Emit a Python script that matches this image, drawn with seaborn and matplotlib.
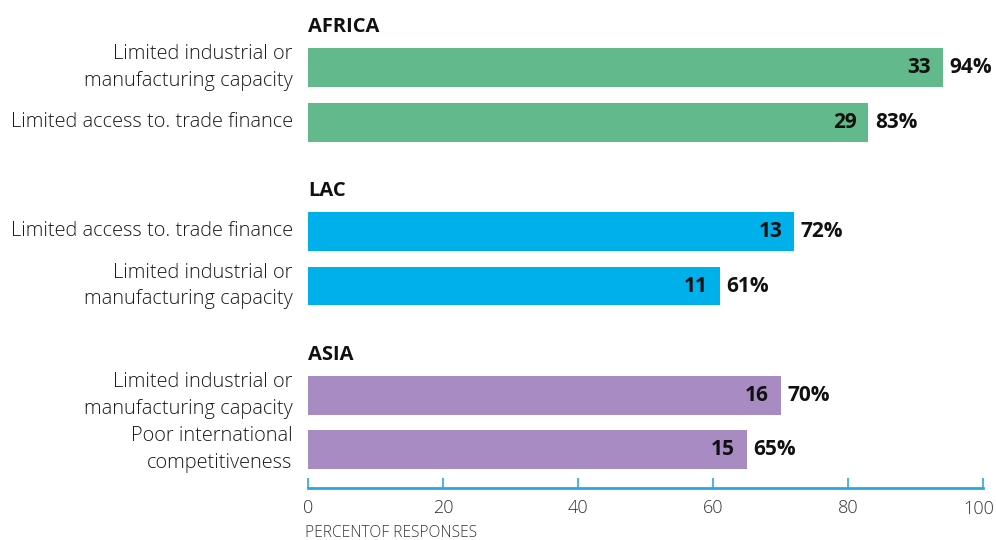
import pandas as pd
import matplotlib.pyplot as plt
import seaborn as sns

# Data
regions = ['AFRICA', 'AFRICA', 'LAC', 'LAC', 'ASIA', 'ASIA']
labels = ['Limited industrial or\nmanufacturing capacity',
          'Limited access to. trade finance',
          'Limited access to. trade finance',
          'Limited industrial or\nmanufacturing capacity',
          'Limited industrial or\nmanufacturing capacity',
          'Poor international\ncompetitiveness']
counts = [33, 29, 13, 11, 16, 15]
percents = [94, 83, 72, 61, 70, 65]
xticks = [0, 20, 40, 60, 80, 100]

colors = {'AFRICA': '#61B98C', 'LAC': '#00B0EA', 'ASIA': '#A78BC2'}

# one empty slot above every region for its header
slots = []
slot_labels = []
bar_slots = []
for i, (r, lab) in enumerate(zip(regions, labels)):
    if i == 0 or regions[i - 1] != r:
        slots.append('h' + r)
        slot_labels.append('')
    slots.append('b%d' % i)
    slot_labels.append(lab)
    bar_slots.append('b%d' % i)

df = pd.DataFrame({'slot': bar_slots, 'region': regions,
                   'pct': percents, 'count': counts})

plt.rcParams['font.family'] = ['Open Sans', 'DejaVu Sans']
fig = plt.figure(figsize=(9.96, 5.4), dpi=100)
ax = fig.add_axes([308 / 996, 52 / 540, 675 / 996, 488 / 540])

sns.barplot(data=df, x='pct', y='slot', hue='region', order=slots,
            palette=colors, width=0.71, dodge=False, legend=False, ax=ax,
            saturation=1)

for _, row in df.iterrows():
    pos = slots.index(row['slot'])
    ax.text(row['pct'] - 1.7, pos, str(row['count']), ha='right', va='center',
            fontsize=15, fontweight='bold', color='#111111')
    ax.text(row['pct'] + 1.0, pos, '%d%%' % row['pct'], ha='left', va='center',
            fontsize=15, fontweight='bold', color='#111111')

for s in slots:
    if s.startswith('h'):
        ax.text(0, slots.index(s) + 0.26, s[1:], ha='left', va='center',
                fontsize=14.5, fontweight='bold', color='#111111')

ax.set_ylim(8.70, -0.24)
ax.set_xlim(0, 100)
ax.set_xticks(xticks)
# last tick label is drawn separately so it stays inside the figure
ax.set_xticklabels([str(t) for t in xticks[:-1]] + [''])
ax.annotate(str(xticks[-1]), xy=(xticks[-1], 0), xycoords=('data', 'axes fraction'),
            xytext=(8, -8.3), textcoords='offset points', ha='right', va='top',
            fontsize=13, color='#333333', fontweight='light')
ax.set_yticks(range(len(slots)))
ax.set_yticklabels(slot_labels, fontsize=14.4, color='#1a1a1a',
                   linespacing=1.45, ha='right', va='center', fontweight='light')
ax.tick_params(axis='y', length=0, pad=11)
ax.tick_params(axis='x', direction='in', length=7, width=1.2,
               color='#29A8E0', labelsize=13, labelcolor='#333333', pad=8)
for t in ax.get_xticklabels():
    t.set_fontweight('light')
for side in ['top', 'right', 'left']:
    ax.spines[side].set_visible(False)
ax.spines['bottom'].set_color('#29A8E0')
ax.spines['bottom'].set_linewidth(2)
ax.set_xlabel('')
ax.set_ylabel('')

fig.text(305 / 996, 7 / 540, 'PERCENTOF RESPONSES', fontsize=11.2,
         color='#333333', ha='left', va='center', fontweight='light')

fig.savefig('out.png', dpi=100)
